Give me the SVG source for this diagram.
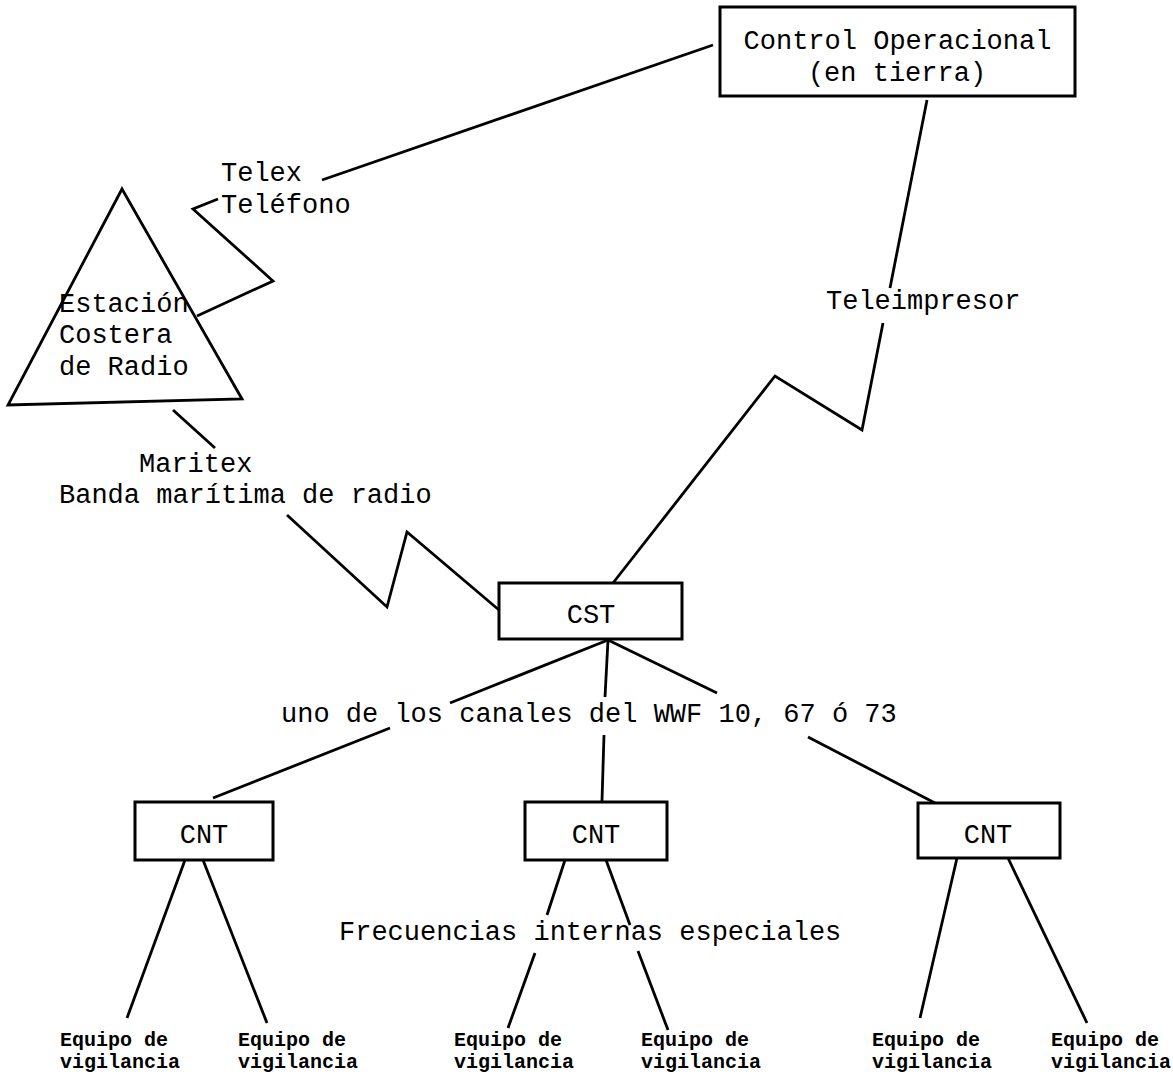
<svg xmlns="http://www.w3.org/2000/svg" width="1173" height="1075" viewBox="0 0 1173 1075">
<style>
  .box { fill: #fff; stroke: #000; stroke-width: 3; }
  .ln { fill: none; stroke: #000; stroke-width: 2.8; stroke-linejoin: miter; stroke-linecap: butt; }
  .t { font-family: "Liberation Mono", "DejaVu Sans Mono", monospace; font-size: 27px; fill: #000; }
  .s { font-family: "Liberation Mono", "DejaVu Sans Mono", monospace; font-size: 20px; font-weight: bold; fill: #000; }
</style>
<rect width="1173" height="1075" fill="#fff"/>

<g id="connectors">
  <!-- Control Operacional to Estación (Telex / Teléfono) -->
  <polyline class="ln" points="713,45 322,180"/>
  <polyline class="ln" points="218,199 193,209 273,281 197,316"/>
  <!-- Control Operacional to CST (Teleimpresor) -->
  <polyline class="ln" points="927,100 890,288"/>
  <polyline class="ln" points="883,323 862,430 775,376 613,583"/>
  <!-- Estación to CST (Maritex) -->
  <polyline class="ln" points="173,410 215,448"/>
  <polyline class="ln" points="287,515 387,607 407,532 499,610"/>
  <!-- CST to CNTs -->
  <polyline class="ln" points="608,640 450,703"/>
  <polyline class="ln" points="390,728 213,798"/>
  <polyline class="ln" points="608,640 605,697"/>
  <polyline class="ln" points="604,735 602,801"/>
  <polyline class="ln" points="608,640 717,693"/>
  <polyline class="ln" points="808,737 935,803"/>
  <!-- CNT1 to equipment -->
  <polyline class="ln" points="185,860 127,1018"/>
  <polyline class="ln" points="203,860 267,1023"/>
  <!-- CNT2 to equipment -->
  <polyline class="ln" points="565,860 547,915"/>
  <polyline class="ln" points="535,953 508,1028"/>
  <polyline class="ln" points="606,860 630,925"/>
  <polyline class="ln" points="638,951 668,1030"/>
  <!-- CNT3 to equipment -->
  <polyline class="ln" points="957,858 920,1018"/>
  <polyline class="ln" points="1008,858 1087,1023"/>
</g>

<g id="connector-labels">
  <text class="t" x="221" y="181">Telex</text>
  <text class="t" x="221" y="213">Teléfono</text>
  <text class="t" x="826" y="309">Teleimpresor</text>
  <text class="t" x="139" y="472">Maritex</text>
  <text class="t" x="59" y="503">Banda marítima de radio</text>
  <text class="t" x="281" y="722">uno de los canales del WWF 10, 67 ó 73</text>
  <text class="t" x="339" y="940">Frecuencias internas especiales</text>
</g>

<g id="control">
  <rect class="box" x="720" y="7" width="355" height="89"/>
  <text class="t" x="897.5" y="49" text-anchor="middle">Control Operacional</text>
  <text class="t" x="897" y="81" text-anchor="middle">(en tierra)</text>
</g>

<g id="estacion">
  <polygon class="ln" points="122,189 8,405 242,399"/>
  <text class="t" x="59" y="312">Estación</text>
  <text class="t" x="59" y="343">Costera</text>
  <text class="t" x="59" y="375">de Radio</text>
</g>

<g id="cst">
  <rect class="box" x="499" y="583" width="183" height="56"/>
  <text class="t" x="591" y="623" text-anchor="middle">CST</text>
</g>

<g id="cnt1">
  <rect class="box" x="135" y="802" width="138" height="58"/>
  <text class="t" x="204" y="843" text-anchor="middle">CNT</text>
</g>
<g id="cnt2">
  <rect class="box" x="525" y="802" width="142" height="58"/>
  <text class="t" x="596" y="843" text-anchor="middle">CNT</text>
</g>
<g id="cnt3">
  <rect class="box" x="918" y="803" width="142" height="55"/>
  <text class="t" x="988" y="843" text-anchor="middle">CNT</text>
</g>

<g id="eq1"><text class="s" x="60" y="1046">Equipo de</text><text class="s" x="60" y="1068">vigilancia</text></g>
<g id="eq2"><text class="s" x="238" y="1046">Equipo de</text><text class="s" x="238" y="1068">vigilancia</text></g>
<g id="eq3"><text class="s" x="454" y="1046">Equipo de</text><text class="s" x="454" y="1068">vigilancia</text></g>
<g id="eq4"><text class="s" x="641" y="1046">Equipo de</text><text class="s" x="641" y="1068">vigilancia</text></g>
<g id="eq5"><text class="s" x="872" y="1046">Equipo de</text><text class="s" x="872" y="1068">vigilancia</text></g>
<g id="eq6"><text class="s" x="1051" y="1046">Equipo de</text><text class="s" x="1051" y="1068">vigilancia</text></g>
</svg>
